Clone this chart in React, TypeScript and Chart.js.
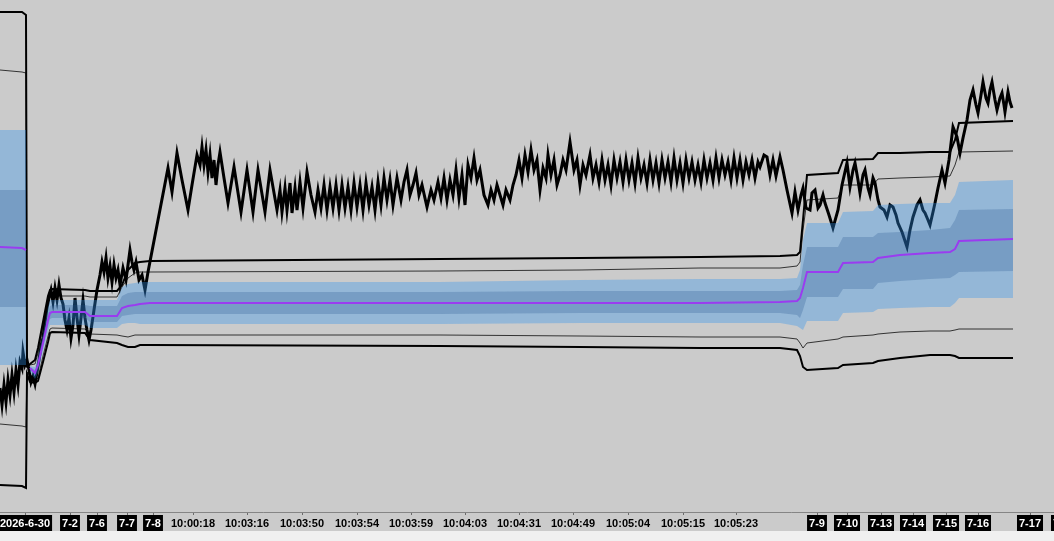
import React, { useEffect, useRef } from "react";
import { Chart, registerables } from "chart.js";

Chart.register(...registerables);

// price path (bar index, price in ticks)
const priceX = [
  0, 2, 4, 6, 8, 10, 12, 14, 16, 18, 20, 22, 23, 25, 27,
  29, 31, 33, 35, 37, 39, 41, 43, 45, 47, 49, 51, 53, 55, 57, 59, 61, 63, 65, 67, 69, 71, 73, 75, 77, 79, 81, 83, 85, 87, 89, 91, 94, 97, 100,
  102, 104, 106, 108, 110, 112, 114, 116, 118, 120, 123, 126, 128, 130, 132, 134, 136, 139, 142, 145, 148, 168, 172, 177, 182, 188, 192, 197, 200,
  202, 204, 206, 208, 210, 212, 214, 216, 218, 220, 224, 228, 234, 241, 247, 253, 258, 265, 270, 277, 280, 282, 285, 287, 290, 292, 295, 297, 300,
  303, 307, 311, 315, 318, 321, 324, 327, 330, 333, 336, 339, 342, 345, 348, 351, 354, 357, 360, 363, 366, 369, 372, 375, 378, 381, 384, 387, 390,
  393, 397, 401, 404, 407, 410, 413, 416, 419, 422, 427, 431, 434, 438, 441, 444, 447, 450, 453, 456, 459, 462, 465, 468, 471, 474, 477, 480, 484,
  488, 491, 494, 497, 500, 503, 506, 510, 513, 516, 519, 522, 525, 528, 531, 534, 537, 540, 543, 546, 548, 551, 554, 557, 560, 563, 566, 570, 574,
  577, 580, 583, 586, 590, 593, 596, 599, 602, 605, 608, 611, 614, 617, 620, 623, 626, 629, 632, 635, 638, 641, 644, 647, 650, 653, 656, 659, 662,
  665, 668, 671, 674, 677, 680, 683, 686, 689, 692, 695, 698, 701, 704, 707, 710, 713, 716, 719, 722, 725, 728, 731, 734, 737, 740, 743, 746, 749,
  752, 755, 758, 760, 764, 767, 770, 773, 776, 780, 783, 787, 792, 795, 798, 801, 803, 806, 810, 812, 815, 818, 820, 823, 825, 829, 833, 838, 842,
  847, 850, 853, 855, 858, 860, 863, 865, 868, 870, 873, 875, 878, 880, 884, 887, 890, 893, 896, 898, 902, 907, 910, 913, 917, 920, 923, 925, 928,
  930, 933, 935, 938, 942, 945, 949, 953, 957, 960, 963, 967, 970, 973, 976, 978, 981, 983, 986, 988, 990, 992, 995, 997, 1000, 1002, 1004, 1005,
  1008, 1010, 1012,
];
const priceV = [
  124, 107, 127, 110, 132, 117, 137, 120, 142, 127, 150, 144, 160, 147, 152,
  142, 130, 136, 128, 140, 152, 166, 174, 190, 204, 214, 222, 210, 224, 212, 227, 214, 208, 192, 182, 194, 174, 187, 214, 194, 177, 194, 212, 194, 182, 172, 182, 202, 222, 237,
  250, 240, 254, 234, 246, 230, 247, 234, 242, 227, 244, 232, 247, 262, 250, 242, 250, 232, 237, 222, 240, 344, 320, 359, 332, 302, 327, 357, 347,
  365, 347, 362, 340, 357, 334, 352, 327, 347, 360, 334, 309, 345, 300, 342, 300, 342, 300, 342, 302, 322, 300, 324, 302, 329, 299, 324, 302, 330,
  304, 340, 317, 300, 322, 304, 327, 302, 325, 304, 327, 302, 327, 304, 325, 302, 329, 305, 327, 302, 329, 307, 325, 302, 330, 307, 334, 312, 332,
  307, 334, 312, 330, 342, 317, 327, 339, 317, 327, 305, 322, 312, 330, 314, 334, 312, 332, 317, 342, 314, 337, 307, 347, 334, 354, 332, 342, 317,
  307, 322, 312, 327, 317, 307, 322, 312, 327, 337, 352, 334, 357, 340, 362, 342, 352, 322, 344, 334, 357, 337, 352, 327, 337, 352, 342, 370, 342,
  352, 327, 347, 337, 357, 334, 347, 330, 352, 332, 347, 327, 352, 334, 350, 330, 352, 332, 349, 329, 354, 334, 347, 329, 352, 332, 349, 329, 352,
  334, 350, 330, 354, 332, 349, 329, 352, 334, 350, 332, 347, 330, 352, 334, 349, 332, 354, 334, 352, 337, 350, 332, 354, 334, 352, 332, 350, 337,
  352, 334, 350, 345, 357, 355, 337, 352, 336, 355, 342, 322, 299, 320, 302, 317, 324, 304, 302, 319, 322, 304, 307, 317, 309, 297, 284, 302, 327,
  349, 325, 342, 349, 332, 319, 337, 342, 324, 317, 334, 329, 312, 305, 302, 295, 307, 305, 297, 289, 280, 265, 282, 295, 307, 312, 302, 299, 292,
  287, 300, 309, 324, 342, 329, 352, 385, 375, 359, 374, 392, 412, 422, 407, 399, 417, 430, 414, 409, 422, 430, 412, 402, 414, 419, 407, 400,
  420, 410, 404,
];

// band key points (bar index); null = session break
const bandX = [0, 22, 26, 27, 30, 35, 38, 43, 48, 50, 52, 85, 90, 117, 122, 128, 135, 140, 150, 440, 580, 700, 780, 797, 800, 803, 807, 838, 843, 873, 878, 900, 930, 950, 955, 959, 1013];
const vwap = [265, 264, 262, null, 144, 139, 147, 169, 192, 199, 200, 200, 196, 196, 204, 206, 207, 208, 209, 209, 209, 209, 210, 211, 214, 224, 240, 240, 249, 250, 254, 257, 259, 260, 263, 271, 273];
const innerUpper = [322, 322, 322, null, 145, 142, 151, 174, 199, 206, 207, 207, 206, 206, 216, 219, 220, 220, 220, 220, 221, 221, 221, 222, 227, 247, 265, 265, 275, 275, 279, 280, 282, 284, 292, 302, 303];
const innerLower = [205, 205, 205, null, 142, 136, 143, 164, 186, 193, 194, 194, 190, 190, 196, 197, 198, 198, 198, 198, 199, 199, 199, 197, 194, 202, 215, 215, 223, 223, 229, 231, 233, 234, 237, 240, 241];
const outerUpper = [382, 382, 382, null, 146, 145, 155, 178, 205, 212, 212, 212, 212, 212, 225, 228, 229, 230, 230, 230, 232, 233, 233, 234, 242, 272, 289, 289, 300, 301, 307, 308, 309, 309, 317, 330, 332];
const outerLower = [147, 147, 147, null, 140, 133, 139, 160, 180, 187, 187, 187, 184, 184, 188, 189, 189, 188, 188, 188, 189, 189, 189, 186, 184, 182, 191, 191, 199, 200, 203, 204, 205, 205, 209, 214, 214];
const thinUpper = [442, 440, 439, 144, 147, 148, 159, 186, 212, 215, 216, 216, 215, 215, 225, 234, 239, 240, 240, 241, 242, 244, 244, 246, 250, 282, 312, 314, 327, 327, 333, 334, 335, 336, 347, 360, 361];
const thinLower = [88, 86, 85, 140, 136, 131, 134, 156, 176, 183, 184, 183, 178, 177, 176, 175, 177, 177, 177, 177, 176, 175, 175, 173, 169, 164, 169, 173, 175, 177, 178, 180, 181, 181, 182, 183, 183];
const envUpper = [500, 500, 497, 146, 148, 152, 164, 190, 216, 222, 223, 222, 221, 221, 227, 242, 249, 250, 251, 253, 254, 255, 256, 257, 260, 292, 337, 339, 352, 353, 359, 359, 360, 360, 372, 389, 391];
const envLower = [27, 26, 24, 138, 130, 129, 131, 150, 170, 179, 180, 179, 172, 169, 167, 165, 165, 167, 167, 166, 165, 164, 164, 162, 156, 145, 142, 144, 147, 149, 151, 154, 157, 157, 156, 154, 154];

// x-axis labels
const tickPos = [25, 70, 97, 127, 153, 193, 247, 302, 357, 411, 465, 519, 573, 628, 683, 736, 817, 847, 881, 913, 946, 978, 1030, 1064];
const tickLabels = ["2026-6-30", "7-2", "7-6", "7-7", "7-8", "10:00:18", "10:03:16", "10:03:50", "10:03:54", "10:03:59", "10:04:03", "10:04:31", "10:04:49", "10:05:04", "10:05:15", "10:05:23", "7-9", "7-10", "7-13", "7-14", "7-15", "7-16", "7-17", "7-20"];

const pts = (xs: number[], ys: (number | null)[]) => xs.map((x, i) => ({ x, y: ys[i] }));
const isDate = (i: number) => !!tickLabels[i] && tickLabels[i].indexOf(":") < 0;

export default function App() {
  const ref = useRef<HTMLCanvasElement | null>(null);
  useEffect(() => {
    if (!ref.current) return;
    const base = { pointRadius: 0, pointHoverRadius: 0, tension: 0, spanGaps: false };
    const chart = new Chart(ref.current, {
      type: "line",
      data: {
        datasets: [
          { ...base, data: pts(bandX, vwap), borderColor: "#9a3cf0", borderWidth: 2, fill: false },
          { ...base, data: pts(bandX, innerUpper), borderWidth: 0, borderColor: "rgba(0,0,0,0)", backgroundColor: "rgba(30,80,140,0.25)", fill: "+1" },
          { ...base, data: pts(bandX, innerLower), borderWidth: 0, borderColor: "rgba(0,0,0,0)", fill: false },
          { ...base, data: pts(bandX, outerUpper), borderWidth: 0, borderColor: "rgba(0,0,0,0)", backgroundColor: "rgba(46,146,237,0.35)", fill: "+1" },
          { ...base, data: pts(bandX, outerLower), borderWidth: 0, borderColor: "rgba(0,0,0,0)", fill: false },
          { ...base, data: pts(priceX, priceV), borderColor: "#000", borderWidth: 3, fill: false },
          { ...base, data: pts(bandX, envUpper), borderColor: "#000", borderWidth: 2, fill: false },
          { ...base, data: pts(bandX, envLower), borderColor: "#000", borderWidth: 2, fill: false },
          { ...base, data: pts(bandX, thinUpper), borderColor: "rgba(25,25,25,0.85)", borderWidth: 1, fill: false },
          { ...base, data: pts(bandX, thinLower), borderColor: "rgba(25,25,25,0.85)", borderWidth: 1, fill: false },
        ],
      },
      options: {
        animation: false,
        responsive: true,
        maintainAspectRatio: false,
        layout: { padding: 0, autoPadding: false } as any,
        plugins: { legend: { display: false }, tooltip: { enabled: false }, filler: { propagate: false } },
        scales: {
          x: {
            type: "linear",
            min: 0,
            max: 1054,
            position: "bottom",
            offset: false,
            grid: { drawOnChartArea: false, drawTicks: true, tickLength: 3, color: "#6a6a6a" },
            border: { display: true, color: "#858585", width: 1 },
            ticks: {
              autoSkip: false,
              maxRotation: 0,
              minRotation: 0,
              padding: 2,
              font: { family: "Liberation Sans", size: 11, weight: "bold" },
              color: (c: any) => (isDate(c.index) ? "#ffffff" : "#000000"),
              showLabelBackdrop: true,
              backdropColor: (c: any) => (isDate(c.index) ? "#000000" : "rgba(0,0,0,0)"),
              backdropPadding: { left: 2, right: 2, top: 2, bottom: 2 },
              callback: (_v: any, i: number) => tickLabels[i],
            } as any,
            afterBuildTicks: (s: any) => {
              s.ticks = tickPos.map((v) => ({ value: v }));
            },
            afterFit: (s: any) => {
              s.height = 19;
              s.paddingLeft = 0;
              s.paddingRight = 0;
            },
          },
          y: { type: "linear", min: 0, max: 512, display: false },
        },
      },
    });
    return () => chart.destroy();
  }, []);
  return (
    <div style={{ position: "fixed", left: 0, top: 0, width: 1054, height: 541, background: "#f0f0f0" }}>
      <div style={{ position: "relative", width: 1054, height: 531, background: "#cbcbcb" }}>
        <canvas ref={ref} />
      </div>
    </div>
  );
}
